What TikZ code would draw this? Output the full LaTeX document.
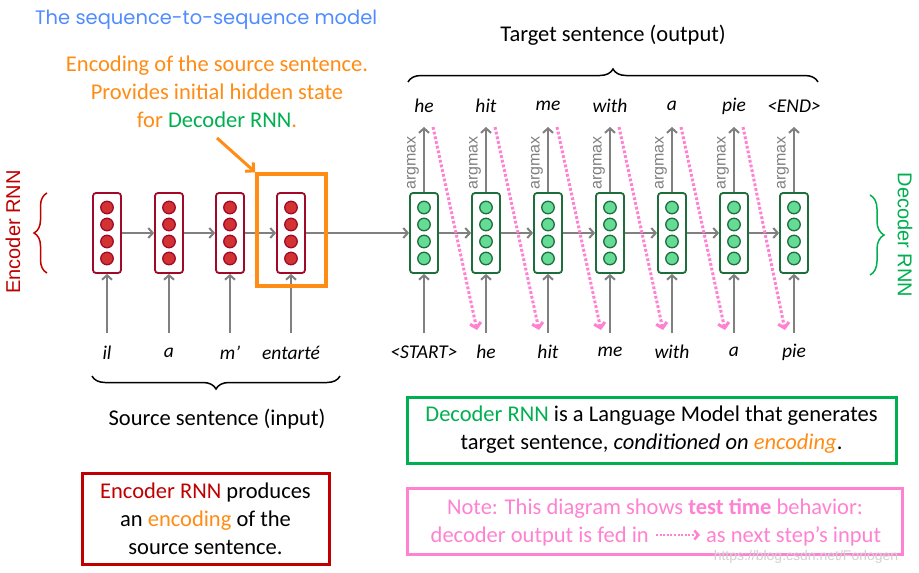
\documentclass[tikz,border=0pt]{standalone}
\usepackage{fontspec}
\setmainfont{Carlito}
\newfontfamily\arialf{Liberation Sans}
\newfontfamily\titlef{Poppins}
\usetikzlibrary{arrows.meta,decorations.pathreplacing,calc}
\definecolor{encred}{RGB}{192,0,0}
\definecolor{cellred}{RGB}{160,10,40}
\definecolor{dotred}{RGB}{210,50,50}
\definecolor{decgreen}{RGB}{0,176,80}
\definecolor{cellgreen}{RGB}{30,110,60}
\definecolor{dotgreen}{RGB}{100,220,150}
\definecolor{orangeC}{RGB}{255,140,20}
\definecolor{titleblue}{RGB}{80,140,255}
\definecolor{pinkC}{RGB}{255,130,210}
\definecolor{arrgray}{RGB}{128,128,128}
\tikzset{
  enccell/.style={draw=cellred, fill=white, line width=1.8pt, rounded corners=3pt, minimum width=28pt, minimum height=80pt, inner sep=0pt},
  deccell/.style={draw=cellgreen, fill=white, line width=1.8pt, rounded corners=3pt, minimum width=28pt, minimum height=80pt, inner sep=0pt},
  encdot/.style={circle, draw=cellred, fill=dotred, line width=1.3pt, minimum size=12.5pt, inner sep=0pt},
  decdot/.style={circle, draw=cellgreen, fill=dotgreen, line width=1.3pt, minimum size=12.5pt, inner sep=0pt},
  arr/.style={draw=arrgray, line width=2pt, -{Straight Barb[length=4.5pt,width=10pt]}},
  pinkarr/.style={draw=pinkC, line width=3pt, dash pattern=on 2.8pt off 2pt, -{Straight Barb[length=5pt,width=11pt]}},
  word/.style={font=\fontsize{19.5}{22}\selectfont\itshape, inner sep=0pt},
  body/.style={font=\fontsize{22.5}{28}\selectfont, align=center, inner sep=0pt},
  argmaxlbl/.style={font=\arialf\fontsize{16}{17}\selectfont, text=arrgray, rotate=90, inner sep=0pt},
  vlbl/.style={font=\arialf\fontsize{20}{22}\selectfont, inner sep=0pt},
  bracestyle/.style={decorate, line width=1.5pt},
  textbox/.style={draw, line width=3pt, inner sep=0pt},
}
\begin{document}
\begin{tikzpicture}[x=1pt,y=-1pt]
\useasboundingbox[fill=white] (0,0) rectangle (919,573);

% title
\node[anchor=west, font=\titlef\fontsize{19.5}{22}\selectfont, text=titleblue, inner sep=0pt] (title) at (35,20) {The sequence-to-sequence model};

% orange annotation
\node[body, text=orangeC] (ot) at (217,92) {Encoding of the source sentence.\\Provides initial hidden state\\for \textcolor{decgreen}{Decoder RNN}.};
\coordinate (oas) at (217,138);

% encoder cells
\foreach \x [count=\i] in {107,169,230,291} {
  \node[enccell] (e\i) at (\x,233) {};
  \foreach \dy in {-25.5,-8.5,8.5,25.5} \node[encdot] at ($(e\i)+(0,\dy)$) {};
}
\foreach \x/\w [count=\i] in {107/il,169/a,230/m’,291/entarté} {
  \node[word] (ei\i) at (\x,353) {\w};
  \coordinate (eis\i) at (\x,333);
  \draw[arr] (eis\i) -- (e\i.south);
}
\foreach \i/\j in {1/2,2/3,3/4} \draw[arr] (e\i.east) -- (e\j.west);

% decoder cells
\foreach \x/\o/\w [count=\i] in {424/he/<START>,486/hit/he,548/me/hit,610/with/me,672/a/with,734/pie/a,794/<END>/pie} {
  \node[deccell] (d\i) at (\x,233) {};
  \foreach \dy in {-25.5,-8.5,8.5,25.5} \node[decdot] at ($(d\i)+(0,\dy)$) {};
  \node[word] (do\i) at (\x,106) {\o};
  \coordinate (dt\i) at (\x,127);
  \draw[arr] (d\i.north) -- (dt\i);
  \node[argmaxlbl] (am\i) at (\x-11,163) {argmax};
  \node[word] (di\i) at (\x,352) {\w};
  \coordinate (dis\i) at (\x,333);
  \draw[arr] (dis\i) -- (d\i.south);
}
\foreach \i/\j in {1/2,2/3,3/4,4/5,5/6,6/7} \draw[arr] (d\i.east) -- (d\j.west);
\draw[arr] (e4.east) -- (d1.west);

% pink feed-back arrows
\foreach \x/\nx [count=\i] in {424/486,486/548,548/610,610/672,672/734,734/794} {
  \coordinate (pt\i) at (\x+9,127);
  \coordinate (pb\i) at (\nx-9,330);
  \draw[pinkarr] (pt\i) -- (pb\i);
}

% orange encoding box and arrow
\node[draw=orangeC, line width=3.5pt, minimum width=69pt, minimum height=112pt, inner sep=0pt] (ob) at (291.5,230) {};
\draw[draw=orangeC, line width=3pt, -{Straight Barb[length=6pt,width=12pt]}] (oas) -- (ob.north west);

% side labels and braces
\node[vlbl, text=encred, rotate=90] (enclbl) at (13,232) {Encoder RNN};
\draw[bracestyle, draw=encred, decoration={brace, amplitude=13pt}] (47,273) -- (47,193);
\node[vlbl, text=decgreen, rotate=-90] (declbl) at (905,235) {Decoder RNN};
\draw[bracestyle, draw=decgreen, decoration={brace, amplitude=14pt}] (870,195) -- (870,275);

% target sentence
\draw[bracestyle, draw=black, decoration={brace, amplitude=13pt}] (408,82) -- (818,82);
\node[body] (tgt) at (613,35) {Target sentence (output)};

% source sentence
\draw[bracestyle, draw=black, decoration={brace, amplitude=13pt}] (340,376) -- (92,376);
\node[body] (src) at (217,419) {Source sentence (input)};

% bottom boxes
\node[textbox, draw=encred, minimum width=247pt, minimum height=91pt, body] (rb) at (205.5,518.5) {\textcolor{encred}{Encoder RNN} produces\\an \textcolor{orangeC}{encoding} of the\\source sentence.};
\node[textbox, draw=decgreen, minimum width=489pt, minimum height=66pt, body] (gb) at (651.5,430) {\textcolor{decgreen}{Decoder RNN} is a Language Model that generates\\target sentence, \textit{conditioned on \textcolor{orangeC}{encoding}}.};
\node[textbox, draw=pinkC, minimum width=495pt, minimum height=66pt] (pb) at (654.5,521) {};
\node[body, text=pinkC, anchor=base] (pl1) at (655,514) {Note: This diagram shows \textbf{test time} behavior:};
\node[body, text=pinkC, anchor=base east] (pl2a) at (649,542) {decoder output is fed in};
\node[body, text=pinkC, anchor=base west] (pl2b) at (706,542) {as next step’s input};
\coordinate (pas) at (656,535);
\coordinate (pae) at (700,535);
\draw[draw=pinkC, line width=2.5pt, dash pattern=on 2pt off 1.6pt, -{Straight Barb[length=4pt,width=9pt]}] (pas) -- (pae);

% watermark
\node[font=\arialf\fontsize{14}{16}\selectfont, text=black!18, inner sep=0pt] (wm) at (806,557) {https://blog.csdn.net/Forlogen};
\end{tikzpicture}
\end{document}
